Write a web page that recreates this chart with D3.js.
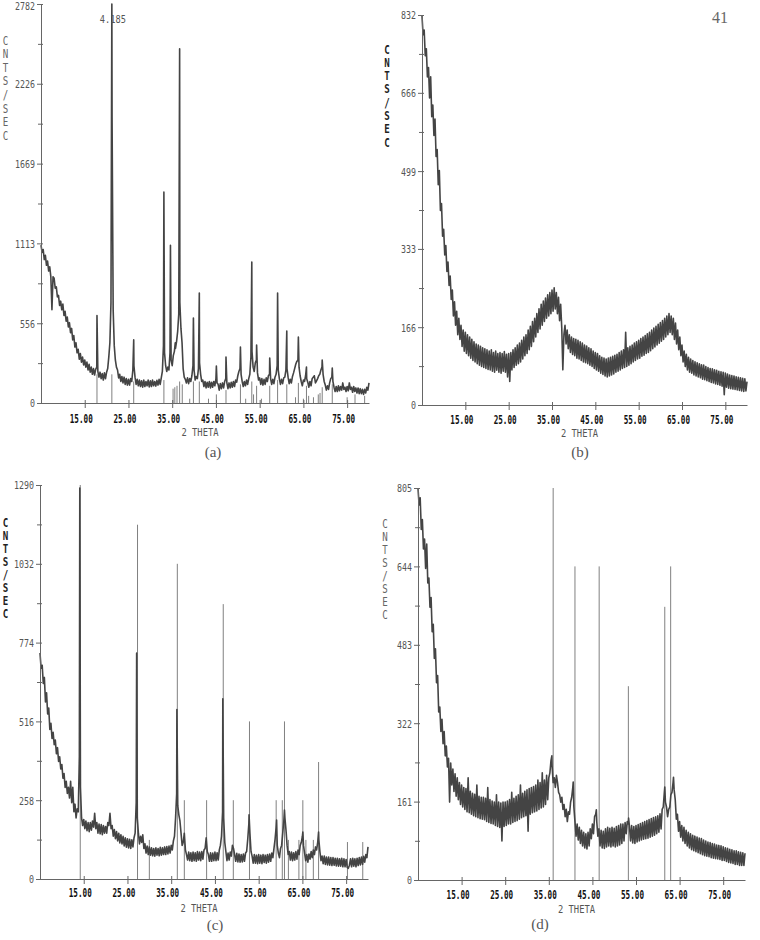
<!DOCTYPE html>
<html>
<head>
<meta charset="utf-8">
<script src="https://cdn.jsdelivr.net/npm/d3@7"></script>
<style>
  body { margin: 0; background: #fff; }
</style>
</head>
<body>
<script>
// traces every 0.25 deg 2-theta, from 5 to 80 (301 values each, 20 per row = 5 deg)
var cpsA = [
  1100, 1050, 1070, 1000, 1030, 960, 990, 920, 950, 880, 650, 880, 870, 800, 810, 740, 750, 680, 710, 650,
  690, 610, 640, 570, 600, 530, 560, 490, 520, 440, 470, 390, 420, 350, 375, 305, 345, 285, 320, 265,
  300, 250, 285, 230, 270, 215, 250, 200, 240, 195, 235, 250, 220, 180, 215, 170, 205, 160, 210, 170,
  215, 240, 320, 420, 700, 2000, 650, 400, 300, 250, 230, 175, 200, 150, 185, 140, 180, 130, 170, 125,
  165, 125, 170, 150, 230, 260, 180, 130, 165, 120, 160, 115, 155, 110, 160, 115, 150, 120, 160, 112,
  155, 115, 160, 120, 150, 118, 158, 125, 165, 130, 175, 220, 400, 350, 260, 220, 250, 230, 350, 300,
  260, 330, 360, 380, 430, 500, 620, 700, 520, 420, 240, 180, 165, 140, 175, 135, 170, 150, 190, 260,
  230, 160, 185, 170, 240, 280, 200, 150, 160, 115, 150, 105, 145, 110, 150, 105, 145, 110, 150, 120,
  170, 140, 130, 90, 135, 100, 140, 105, 150, 170, 140, 100, 140, 105, 145, 110, 150, 115, 160, 145,
  190, 220, 240, 200, 150, 115, 150, 120, 160, 130, 170, 200, 320, 360, 250, 220, 280, 300, 210, 160,
  175, 130, 170, 125, 165, 130, 175, 150, 190, 200, 170, 130, 165, 135, 180, 200, 260, 230, 170, 130,
  165, 135, 175, 180, 230, 240, 180, 135, 165, 140, 185, 210, 240, 270, 290, 300, 250, 190, 150, 120,
  160, 150, 190, 170, 145, 110, 150, 120, 170, 180, 190, 140, 155, 170, 190, 200, 230, 250, 200, 150,
  125, 90, 120, 95, 140, 170, 180, 150, 110, 80, 115, 80, 120, 85, 115, 90, 140, 95, 110, 80,
  115, 85, 140, 95, 110, 75, 115, 80, 105, 70, 105, 65, 100, 65, 95, 60, 95, 70, 110, 90,
  140
];
var cpsB = [
  830, 790, 800, 745, 760, 700, 720, 655, 700, 615, 640, 575, 610, 530, 545, 470, 500, 415, 430, 360,
  375, 320, 340, 285, 305, 255, 275, 225, 245, 190, 220, 170, 200, 150, 185, 140, 170, 125, 160, 115,
  155, 110, 150, 105, 145, 100, 140, 95, 135, 92, 130, 88, 128, 85, 125, 82, 122, 80, 120, 78,
  118, 76, 115, 75, 118, 72, 112, 70, 115, 74, 110, 70, 112, 68, 110, 72, 114, 70, 108, 60,
  110, 50, 112, 75, 118, 80, 122, 85, 128, 88, 132, 92, 138, 98, 145, 105, 150, 110, 160, 118,
  168, 125, 178, 135, 185, 145, 195, 155, 205, 162, 215, 170, 222, 178, 228, 185, 235, 190, 240, 195,
  245, 200, 250, 205, 240, 195, 230, 180, 215, 165, 75, 150, 170, 130, 160, 120, 150, 112, 145, 108,
  142, 105, 140, 100, 138, 98, 135, 95, 132, 92, 128, 90, 126, 88, 122, 85, 120, 82, 115, 78,
  112, 75, 110, 72, 105, 68, 102, 65, 100, 62, 98, 60, 100, 62, 102, 64, 104, 66, 106, 70,
  108, 72, 112, 75, 115, 78, 118, 80, 155, 82, 122, 85, 125, 88, 128, 92, 132, 95, 135, 98,
  138, 100, 142, 104, 145, 106, 148, 110, 152, 112, 155, 116, 160, 120, 164, 124, 168, 128, 172, 132,
  176, 136, 180, 140, 185, 145, 190, 150, 195, 155, 190, 150, 185, 140, 175, 130, 160, 118, 145, 105,
  128, 92, 115, 82, 108, 75, 102, 70, 98, 68, 95, 64, 92, 62, 90, 60, 88, 58, 86, 55,
  85, 54, 82, 52, 80, 50, 78, 48, 77, 47, 75, 45, 74, 44, 72, 42, 71, 40, 70, 22,
  68, 38, 66, 36, 64, 35, 63, 34, 62, 33, 60, 32, 59, 31, 58, 30, 57, 29, 56, 30,
  50
];
var cpsC = [
  740, 690, 700, 640, 660, 580, 610, 540, 560, 490, 510, 460, 480, 440, 455, 410, 430, 385, 400, 360,
  375, 330, 345, 300, 320, 280, 300, 265, 320, 250, 300, 220, 245, 200, 230, 220, 400, 300, 200, 175,
  195, 165, 190, 158, 185, 155, 185, 160, 190, 170, 215, 165, 185, 150, 180, 148, 178, 145, 175, 150,
  172, 150, 185, 175, 215, 165, 175, 140, 162, 132, 155, 125, 150, 118, 145, 115, 140, 108, 135, 104,
  132, 102, 130, 100, 128, 105, 135, 150, 250, 200, 150, 115, 140, 120, 145, 100, 115, 85, 108, 80,
  105, 78, 102, 76, 100, 75, 102, 78, 100, 76, 104, 78, 102, 80, 105, 80, 106, 82, 108, 85,
  110, 95, 125, 140, 200, 280, 240, 210, 190, 150, 110, 120, 150, 95, 80, 62, 88, 60, 86, 58,
  88, 60, 86, 58, 90, 62, 88, 60, 90, 65, 95, 100, 135, 90, 80, 58, 86, 58, 85, 60,
  88, 60, 86, 62, 95, 110, 140, 220, 200, 120, 90, 60, 85, 62, 88, 75, 110, 100, 80, 58,
  84, 56, 82, 55, 80, 56, 82, 58, 85, 90, 130, 180, 150, 90, 75, 52, 80, 52, 78, 50,
  80, 52, 78, 50, 80, 54, 78, 52, 80, 55, 82, 58, 85, 70, 100, 130, 170, 110, 85, 70,
  100, 110, 150, 190, 200, 160, 110, 80, 90, 62, 88, 60, 86, 62, 90, 65, 95, 80, 110, 120,
  140, 110, 85, 60, 80, 55, 82, 65, 90, 70, 95, 80, 105, 95, 120, 130, 90, 60, 75, 50,
  75, 48, 72, 46, 72, 45, 70, 44, 70, 45, 68, 43, 68, 42, 66, 42, 68, 40, 66, 40,
  64, 38, 35, 45, 66, 40, 68, 42, 66, 40, 68, 44, 70, 46, 72, 48, 74, 55, 80, 70,
  105
];
var cpsD = [
  805, 770, 785, 720, 740, 680, 700, 640, 690, 610, 620, 560, 580, 510, 525, 455, 475, 405, 420, 345,
  355, 305, 330, 280, 305, 255, 275, 232, 250, 160, 240, 195, 228, 182, 218, 172, 210, 165, 200, 155,
  195, 150, 190, 145, 188, 140, 210, 138, 182, 135, 178, 132, 176, 130, 195, 128, 172, 126, 170, 125,
  170, 124, 168, 120, 190, 118, 165, 116, 162, 115, 160, 112, 175, 110, 160, 108, 158, 80, 160, 110,
  160, 112, 162, 115, 165, 115, 180, 118, 168, 120, 172, 122, 175, 125, 195, 128, 178, 130, 182, 132,
  185, 100, 188, 135, 190, 138, 192, 140, 195, 142, 205, 145, 200, 148, 220, 150, 205, 155, 215, 165,
  210, 220, 245, 235, 200, 210, 190, 215, 200, 180, 175, 160, 170, 145, 155, 130, 145, 120, 140, 135,
  160, 170, 190, 150, 120, 90, 115, 82, 108, 75, 102, 70, 98, 66, 95, 64, 98, 70, 105, 85,
  115, 95, 130, 135, 120, 90, 105, 70, 102, 66, 100, 65, 105, 68, 108, 70, 106, 68, 108, 70,
  106, 68, 110, 70, 112, 72, 115, 75, 115, 80, 118, 95, 120, 115, 110, 80, 112, 76, 110, 75,
  112, 78, 114, 80, 116, 82, 118, 84, 120, 85, 122, 86, 124, 88, 126, 90, 128, 92, 130, 95,
  132, 98, 136, 105, 145, 150, 180, 160, 150, 130, 145, 150, 175, 180, 200, 185, 165, 125, 135, 100,
  120, 88, 112, 80, 108, 75, 102, 70, 98, 66, 95, 62, 92, 60, 90, 58, 88, 56, 86, 54,
  85, 52, 82, 50, 80, 49, 78, 48, 77, 46, 75, 45, 74, 44, 72, 43, 71, 42, 70, 40,
  68, 40, 66, 38, 65, 36, 63, 35, 62, 34, 60, 32, 60, 32, 58, 30, 57, 30, 56, 30,
  55
];

// sharp reflections: [2theta, cnts/sec] apex points added to the traces
var peaksA = [[17.8, 610], [21.2, 2782], [26.2, 440], [33.1, 1470], [34.6, 1100], [35.7, 420],
  [36.7, 2470], [39.85, 593], [41.2, 767], [45.1, 258], [47.3, 321], [50.6, 390], [53.2, 983],
  [54.3, 404], [57.3, 314], [59.1, 767], [61.2, 502], [63.85, 460], [65.7, 251], [69.3, 300], [71.6, 244]];
var peaksB = [];
var peaksC = [[14.1, 1280], [27.1, 740], [36.3, 555], [46.8, 590], [52.8, 210],
  [59.1, 193], [60.9, 226], [65.1, 154], [68.7, 154]];
var peaksD = [[35.7, 255], [40.6, 201], [45.9, 144], [53.3, 127], [61.6, 191], [63.6, 211]];

// reference pattern sticks: [2theta, height]
var sticksA = [[17.8, 200], [21.2, 200], [26.2, 150], [33.1, 160], [35.2, 100], [35.6, 110], [36.1, 120],
  [36.7, 150], [37.3, 130], [39.0, 30], [39.85, 150], [41.2, 150], [43.3, 30], [45.1, 60], [47.3, 90],
  [50.6, 130], [51.8, 30], [53.2, 150], [53.6, 60], [54.3, 120], [55.4, 30], [57.3, 120], [59.1, 160],
  [61.2, 130], [63.2, 40], [63.85, 140], [65.0, 30], [65.7, 120], [66.2, 50], [67.3, 40], [68.4, 60],
  [68.8, 70], [69.3, 110], [71.6, 130], [75.0, 40], [76.8, 60], [79.0, 50]];
var sticksB = [];
var sticksC = [[14.2, 1290], [27.3, 1160], [30.0, 128], [36.4, 1032], [38.0, 258], [43.1, 258],
  [46.9, 900], [49.2, 258], [52.9, 516], [59.0, 258], [60.4, 258], [60.9, 516], [61.8, 128],
  [64.2, 128], [65.1, 258], [65.8, 128], [67.5, 128], [68.7, 383], [75.3, 121], [78.8, 121]];
var sticksD = [[36.0, 805], [41.0, 644], [46.55, 644], [53.25, 398], [61.6, 561], [62.95, 644]];

var yTicksA = [0, 556, 1113, 1669, 2226, 2782];
var yTicksB = [0, 166, 333, 499, 666, 832];
var yTicksC = [0, 258, 516, 774, 1032, 1290];
var yTicksD = [0, 161, 322, 483, 644, 805];
var xTicks = [15, 25, 35, 45, 55, 65, 75];
var yLabel = ["C", "N", "T", "S", "/", "S", "E", "C"];
var captions = ["(a)", "(b)", "(c)", "(d)"];

var gridAngles = cpsA.map(function(d, i) { return 5 + i * 0.25; });

var mono = "'DejaVu Sans Mono', monospace";
var serif = "'Liberation Serif', 'DejaVu Serif', serif";

var panels = [
  {cps: cpsA, peaks: peaksA, sticks: sticksA, yTicks: yTicksA,
   left: 41, right: 369, top: 4, bottom: 403, xlab: 20, theta: 33,
   labX: 5.5, labY0: 40, labDy: 13.6, labBold: false, cap: [213, 457]},
  {cps: cpsB, peaks: peaksB, sticks: sticksB, yTicks: yTicksB,
   left: 422, right: 747, top: 15, bottom: 405, xlab: 19, theta: 32,
   labX: 387, labY0: 49, labDy: 13.3, labBold: true, cap: [580, 457]},
  {cps: cpsC, peaks: peaksC, sticks: sticksC, yTicks: yTicksC,
   left: 40, right: 368, top: 485, bottom: 879, xlab: 18, theta: 33,
   labX: 5.5, labY0: 522, labDy: 13, labBold: true, cap: [215, 930]},
  {cps: cpsD, peaks: peaksD, sticks: sticksD, yTicks: yTicksD,
   left: 418, right: 745, top: 488, bottom: 880, xlab: 19, theta: 33,
   labX: 385, labY0: 523, labDy: 13.1, labBold: false, cap: [540, 929]}
];

var svg = d3.select("body").append("svg")
    .attr("width", 760)
    .attr("height", 940);

svg.append("rect").attr("width", 760).attr("height", 940).attr("fill", "#fff");

function squeeze(sel, perChar) {
  sel.attr("textLength", function() { return this.textContent.length * perChar; })
     .attr("lengthAdjust", "spacingAndGlyphs");
}

function drawPanel(p, i) {
  var x = d3.scaleLinear().domain([5, 80]).range([p.left, p.right]);
  var y = d3.scaleLinear().domain([0, p.yTicks[p.yTicks.length - 1]]).range([p.bottom, p.top]);
  var g = svg.append("g");

  // merge the sampled trace with the peak apexes
  var pts = p.cps.map(function(v, k) { return [gridAngles[k], v]; }).concat(p.peaks);
  pts.sort(function(a, b) { return a[0] - b[0]; });

  g.selectAll(".stick")
    .data(p.sticks)
    .enter().append("line")
    .attr("class", "stick")
    .attr("x1", function(d) { return x(d[0]); })
    .attr("x2", function(d) { return x(d[0]); })
    .attr("y1", y(0))
    .attr("y2", function(d) { return y(d[1]); })
    .attr("stroke", "#808080")
    .attr("stroke-width", 1);

  g.append("path")
    .datum(pts)
    .attr("fill", "none")
    .attr("stroke", "#444")
    .attr("stroke-width", 1.6)
    .attr("stroke-linejoin", "round")
    .attr("d", d3.line()
      .x(function(d) { return x(d[0]); })
      .y(function(d) { return y(d[1]); }));

  // y axis with labelled and half-way ticks
  var ya = g.append("g")
    .attr("transform", "translate(" + p.left + ",0)")
    .call(d3.axisLeft(y).tickValues(p.yTicks).tickSize(4).tickSizeOuter(0)
      .tickPadding(2).tickFormat(d3.format("d")));
  var mids = d3.pairs(p.yTicks).map(function(d) { return (d[0] + d[1]) / 2; });
  g.append("g")
    .attr("transform", "translate(" + p.left + ",0)")
    .call(d3.axisLeft(y).tickValues(mids).tickSize(3).tickSizeOuter(0).tickFormat(""))
    .select(".domain").remove();
  g.append("g")
    .attr("transform", "translate(" + p.left + ",0)")
    .call(d3.axisRight(y).tickValues(p.yTicks.concat(mids)).tickSize(2).tickSizeOuter(0).tickFormat(""))
    .select(".domain").remove();
  ya.selectAll("text")
    .style("font-family", mono)
    .attr("font-size", 11)
    .attr("fill", "#555")
    .attr("dy", function(d) { return d === p.yTicks[p.yTicks.length - 1] && p.top < 8 ? "0.48em" : "0.36em"; })
    .call(squeeze, 5);

  // x axis
  var xa = g.append("g")
    .attr("transform", "translate(0," + p.bottom + ")")
    .call(d3.axisBottom(x).tickValues(xTicks).tickSize(5).tickSizeOuter(0)
      .tickFormat(d3.format(".2f")));
  g.append("g")
    .attr("transform", "translate(0," + p.bottom + ")")
    .call(d3.axisTop(x).tickValues(xTicks).tickSize(3).tickSizeOuter(0).tickFormat(""))
    .select(".domain").remove();
  xa.selectAll("text")
    .style("font-family", mono)
    .attr("font-size", 12)
    .attr("font-weight", "bold")
    .attr("fill", "#111")
    .attr("y", p.xlab)
    .attr("dy", 0)
    .attr("dx", -4)
    .call(squeeze, 4.6);

  g.selectAll(".domain, .tick line").attr("stroke", "#666");

  g.append("text")
    .style("font-family", mono)
    .attr("x", (p.left + p.right) / 2 - 5)
    .attr("y", p.bottom + p.theta)
    .attr("text-anchor", "middle")
    .attr("font-size", 11)
    .attr("fill", "#555")
    .text("2 THETA")
    .call(squeeze, 5.3);

  g.selectAll(".ylab")
    .data(yLabel)
    .enter().append("text")
    .style("font-family", mono)
    .attr("x", p.labX)
    .attr("y", function(d, k) { return p.labY0 + k * p.labDy + 4.5; })
    .attr("text-anchor", "middle")
    .attr("font-size", 12)
    .attr("font-weight", p.labBold ? "bold" : "normal")
    .attr("fill", p.labBold ? "#222" : "#666")
    .text(function(d) { return d; })
    .call(squeeze, 5.5);

  g.append("text")
    .style("font-family", serif)
    .attr("x", p.cap[0])
    .attr("y", p.cap[1])
    .attr("text-anchor", "middle")
    .attr("font-size", 15)
    .attr("fill", "#555")
    .text(captions[i]);

  return x;
}

var xA = drawPanel(panels[0], 0);
panels.slice(1).forEach(function(p, k) { drawPanel(p, k + 1); });

// d-spacing label on the strongest reflection of (a)
svg.append("text")
  .style("font-family", mono)
  .attr("x", xA(21.2) + 1)
  .attr("y", 23)
  .attr("text-anchor", "middle")
  .attr("font-size", 11)
  .attr("fill", "#555")
  .text("4.185")
  .call(squeeze, 5.2);

// page number
svg.append("text")
  .style("font-family", serif)
  .attr("x", 712)
  .attr("y", 23)
  .attr("font-size", 16)
  .attr("fill", "#666")
  .text("41");
</script>
</body>
</html>
